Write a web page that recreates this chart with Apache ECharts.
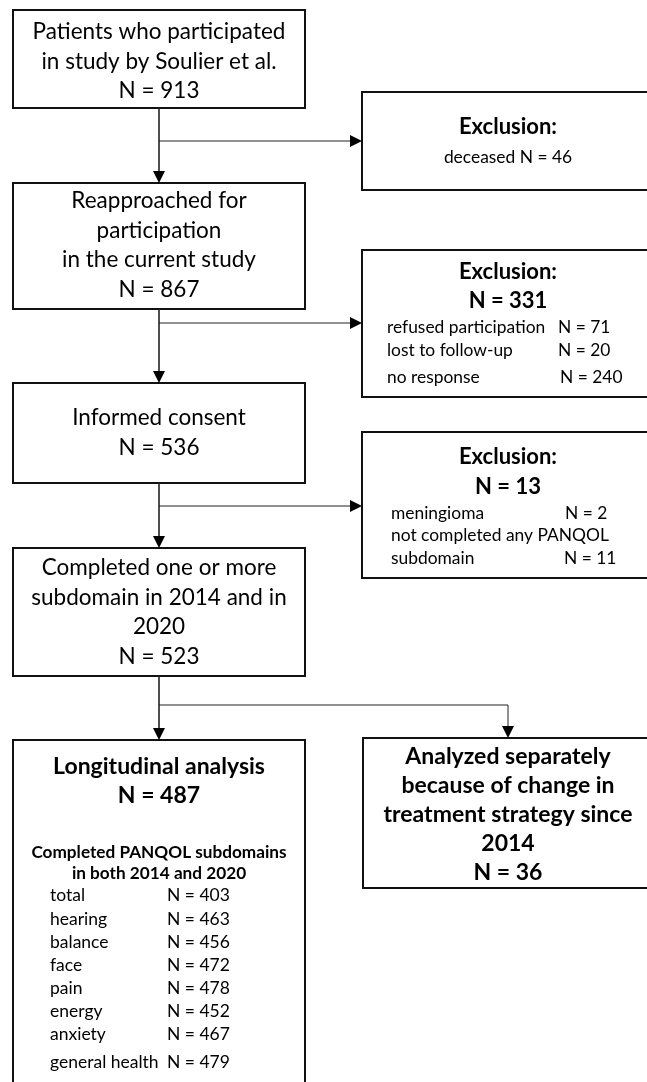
<!DOCTYPE html>
<html><head><meta charset="utf-8">
<script src="https://cdn.jsdelivr.net/npm/echarts@6/dist/echarts.min.js"></script>
<style>html,body{margin:0;padding:0;background:#fff}#c{width:647px;height:1082px}</style>
</head><body><div id="c"></div>
<script>
// ---------- data ----------
const mainStepLabels = [
  ['Patients who participated', 'in study by Soulier et al.'],
  ['Reapproached for', 'participation', 'in the current study'],
  ['Informed consent'],
  ['Completed one or more', 'subdomain in 2014 and in', '2020']
];
const mainStepN = [913, 867, 536, 523];
const exclusionTitle = 'Exclusion:';
const exclusionTotalN = [null, 331, 13];
const exclusionReasons = [
  ['deceased'],
  ['refused participation', 'lost to follow-up', 'no response'],
  ['meningioma', 'not completed any PANQOL', 'subdomain']
];
const exclusionReasonN = [[46], [71, 20, 240], [2, null, 11]];
const longitudinalLabel = 'Longitudinal analysis';
const longitudinalN = 487;
const separateLabel = ['Analyzed separately', 'because of change in', 'treatment strategy since', '2014'];
const separateN = 36;
const subdomainHeading = ['Completed PANQOL subdomains', 'in both 2014 and 2020'];
const subdomains = ['total', 'hearing', 'balance', 'face', 'pain', 'energy', 'anxiety', 'general health'];
const subdomainN = [403, 463, 456, 472, 478, 452, 467, 479];

// ---------- layout (units of the hidden axes) ----------
const W = 647, H = 1082;
const FONT = 'Lato';
const mainX = [13, 305], mainCX = 159;
const mainY = [[10, 108], [183, 309], [383, 483], [548, 676]];
const mainTextY0 = [32, 201, 418, 568];
const mainGap = 29.5;
const exclX = [362, 656], exclCX = 508;
const exclY = [[92, 190], [250, 397], [432, 578]];
const branchY = [141, 323, 506];
const exclTitleY = [127, 272, 457];
const exclTotalY = [null, 301, 487];
const exclReasonY = [[157], [327, 350, 377], [513, 535, 558]];
const exclReasonX = [null, 387, 391];
const exclNX = [null, [558, 558, 560], [565, null, 564]];
const outBranchY = 705, sepCX = 508;
const longBox = [13, 740, 305, 1090];
const sepBox = [363, 738, 652, 888];
const longTitleY = [767, 796];
const headY = [852, 873];
const rowY = [895, 919, 942, 965, 988, 1011, 1034, 1062];
const rowX = 50, rowNX = 167;
const sepY0 = 757, sepGap = 29;
const SZ = {main: 22.5, exTitle: 22, exText: 17.4, outTitle: 23, head: 17.2, row: 17.5, sep: 23};

// ---------- build elements ----------
const boxes = [];
mainY.forEach(y => boxes.push([mainX[0], y[0], mainX[1], y[1]]));
exclY.forEach(y => boxes.push([exclX[0], y[0], exclX[1], y[1]]));
boxes.push(longBox, sepBox);

const lines = []; // {pts, w, arrow}
for (let i = 0; i < 3; i++) {
  lines.push({pts: [[mainCX, mainY[i][1]], [mainCX, mainY[i + 1][0]]], w: 1.6, arrow: 'down'});
  lines.push({pts: [[mainCX, branchY[i]], [exclX[0], branchY[i]]], w: 1, arrow: 'right'});
}
lines.push({pts: [[mainCX, mainY[3][1]], [mainCX, longBox[1]]], w: 1.6, arrow: 'down'});
lines.push({pts: [[mainCX, outBranchY], [sepCX, outBranchY], [sepCX, sepBox[1]]], w: 1, arrow: 'down'});

const texts = []; // {x,y,t,s,b,a}
const T = (x, y, t, s, b, a) => texts.push({x, y, t, s, b: b ? 'bold' : 'normal', a: a || 'center'});
mainStepLabels.forEach((lab, i) => {
  lab.forEach((l, j) => T(mainCX, mainTextY0[i] + j * mainGap, l, SZ.main));
  T(mainCX, mainTextY0[i] + lab.length * mainGap, 'N = ' + mainStepN[i], SZ.main);
});
for (let i = 0; i < 3; i++) {
  T(exclCX, exclTitleY[i], exclusionTitle, SZ.exTitle, true);
  if (exclusionTotalN[i] != null) T(exclCX, exclTotalY[i], 'N = ' + exclusionTotalN[i], SZ.exTitle, true);
  if (i === 0) {
    T(exclCX, exclReasonY[0][0], exclusionReasons[0][0] + ' N = ' + exclusionReasonN[0][0], SZ.exText);
  } else {
    exclusionReasons[i].forEach((r, j) => {
      T(exclReasonX[i], exclReasonY[i][j], r, SZ.exText, false, 'left');
      if (exclusionReasonN[i][j] != null) T(exclNX[i][j], exclReasonY[i][j], 'N = ' + exclusionReasonN[i][j], SZ.exText, false, 'left');
    });
  }
}
T(mainCX, longTitleY[0], longitudinalLabel, SZ.outTitle, true);
T(mainCX, longTitleY[1], 'N = ' + longitudinalN, SZ.outTitle, true);
subdomainHeading.forEach((h, j) => T(mainCX, headY[j], h, SZ.head, true));
subdomains.forEach((s, j) => {
  T(rowX, rowY[j], s, SZ.row, false, 'left');
  T(rowNX, rowY[j], 'N = ' + subdomainN[j], SZ.row, false, 'left');
});
separateLabel.forEach((l, j) => T(sepCX, sepY0 + j * sepGap, l, SZ.sep, true));
T(sepCX, sepY0 + separateLabel.length * sepGap, 'N = ' + separateN, SZ.sep, true);

// ---------- chart ----------
const chart = echarts.init(document.getElementById('c'), null, {renderer: 'canvas'});
const ARW = 6, ARL = 12;
chart.setOption({
  animation: false,
  backgroundColor: '#fff',
  grid: {left: 0, right: 0, top: 0, bottom: 0},
  xAxis: {type: 'value', min: 0, max: W, show: false},
  yAxis: {type: 'value', min: 0, max: H, inverse: true, show: false},
  series: [
    {
      type: 'custom', coordinateSystem: 'cartesian2d', silent: true, clip: false,
      data: boxes,
      renderItem: (p, api) => {
        const a = api.coord([api.value(0), api.value(1)]);
        const b = api.coord([api.value(2), api.value(3)]);
        return {type: 'rect', shape: {x: a[0], y: a[1], width: b[0] - a[0], height: b[1] - a[1]},
          style: {fill: '#fff', stroke: '#111', lineWidth: 2}};
      }
    },
    {
      type: 'custom', coordinateSystem: 'cartesian2d', silent: true, clip: false,
      data: lines.map((l, i) => [l.pts[0][0], l.pts[0][1], i]),
      renderItem: (p, api) => {
        const l = lines[p.dataIndex];
        const pts = l.pts.map(q => api.coord(q));
        const end = pts[pts.length - 1];
        let tri, lineEnd;
        if (l.arrow === 'down') {
          tri = [[end[0] - ARW, end[1] - ARL], [end[0] + ARW, end[1] - ARL], [end[0], end[1]]];
          lineEnd = [end[0], end[1] - ARL + 1];
        } else {
          tri = [[end[0] - ARL, end[1] - ARW], [end[0] - ARL, end[1] + ARW], [end[0], end[1]]];
          lineEnd = [end[0] - ARL + 1, end[1]];
        }
        const linePts = pts.slice(0, -1).concat([lineEnd]);
        return {type: 'group', children: [
          {type: 'polyline', shape: {points: linePts}, style: {stroke: '#222', lineWidth: l.w, fill: null}},
          {type: 'polygon', shape: {points: tri}, style: {fill: '#000'}}
        ]};
      }
    },
    {
      type: 'custom', coordinateSystem: 'cartesian2d', silent: true, clip: false,
      data: texts.map(t => [t.x, t.y]),
      renderItem: (p, api) => {
        const t = texts[p.dataIndex];
        const c = api.coord([api.value(0), api.value(1)]);
        return {type: 'text', x: c[0], y: c[1],
          style: {text: t.t, fill: '#000', font: t.b + ' ' + t.s + 'px ' + FONT,
            align: t.a, textAlign: t.a, verticalAlign: 'middle', textVerticalAlign: 'middle'}};
      }
    }
  ]
});
</script></body></html>
